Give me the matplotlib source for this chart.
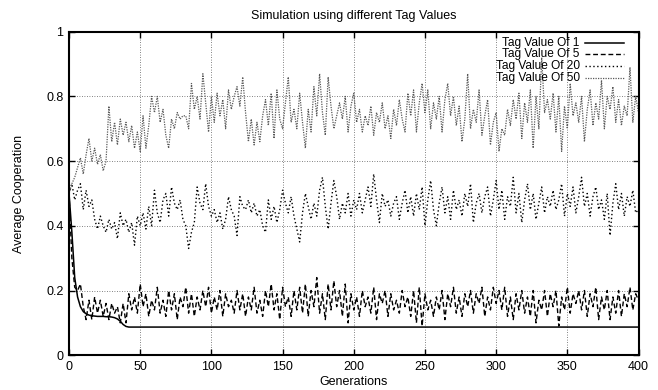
import numpy as np
import matplotlib
matplotlib.use('Agg')
import matplotlib.pyplot as plt
from matplotlib.lines import Line2D

# one sample every 2 generations, 0..400
generations = np.arange(0, 401, 2)

tag1 = [
    0.50, 0.38, 0.24, 0.18, 0.15, 0.135, 0.128, 0.124, 0.122, 0.121,
    0.120, 0.120, 0.120, 0.119, 0.119, 0.118, 0.116, 0.112, 0.105, 0.095,
    0.089, 0.087, 0.087, 0.087, 0.087, 0.087, 0.087, 0.087, 0.087, 0.087,
    0.087, 0.087, 0.087, 0.087, 0.087, 0.087, 0.087, 0.087, 0.087, 0.087,
    0.087, 0.087, 0.087, 0.087, 0.087, 0.087, 0.087, 0.087, 0.087, 0.087,
    0.087, 0.087, 0.087, 0.087, 0.087, 0.087, 0.087, 0.087, 0.087, 0.087,
    0.087, 0.087, 0.087, 0.087, 0.087, 0.087, 0.087, 0.087, 0.087, 0.087,
    0.087, 0.087, 0.087, 0.087, 0.087, 0.087, 0.087, 0.087, 0.087, 0.087,
    0.087, 0.087, 0.087, 0.087, 0.087, 0.087, 0.087, 0.087, 0.087, 0.087,
    0.087, 0.087, 0.087, 0.087, 0.087, 0.087, 0.087, 0.087, 0.087, 0.087,
    0.087, 0.087, 0.087, 0.087, 0.087, 0.087, 0.087, 0.087, 0.087, 0.087,
    0.087, 0.087, 0.087, 0.087, 0.087, 0.087, 0.087, 0.087, 0.087, 0.087,
    0.087, 0.087, 0.087, 0.087, 0.087, 0.087, 0.087, 0.087, 0.087, 0.087,
    0.087, 0.087, 0.087, 0.087, 0.087, 0.087, 0.087, 0.087, 0.087, 0.087,
    0.087, 0.087, 0.087, 0.087, 0.087, 0.087, 0.087, 0.087, 0.087, 0.087,
    0.087, 0.087, 0.087, 0.087, 0.087, 0.087, 0.087, 0.087, 0.087, 0.087,
    0.087, 0.087, 0.087, 0.087, 0.087, 0.087, 0.087, 0.087, 0.087, 0.087,
    0.087, 0.087, 0.087, 0.087, 0.087, 0.087, 0.087, 0.087, 0.087, 0.087,
    0.087, 0.087, 0.087, 0.087, 0.087, 0.087, 0.087, 0.087, 0.087, 0.087,
    0.087, 0.087, 0.087, 0.087, 0.087, 0.087, 0.087, 0.087, 0.087, 0.087,
    0.087,
]

tag5 = [
    0.50, 0.30, 0.21, 0.20, 0.22, 0.15, 0.11, 0.17, 0.11, 0.18,
    0.13, 0.17, 0.12, 0.16, 0.11, 0.16, 0.13, 0.15, 0.10, 0.16,
    0.10, 0.19, 0.14, 0.18, 0.13, 0.22, 0.15, 0.19, 0.12, 0.17,
    0.14, 0.21, 0.13, 0.17, 0.12, 0.20, 0.14, 0.19, 0.11, 0.18,
    0.15, 0.21, 0.13, 0.19, 0.12, 0.18, 0.14, 0.20, 0.15, 0.21,
    0.13, 0.18, 0.14, 0.20, 0.12, 0.19, 0.15, 0.17, 0.13, 0.20,
    0.14, 0.19, 0.12, 0.18, 0.14, 0.21, 0.13, 0.17, 0.12, 0.20,
    0.15, 0.22, 0.14, 0.19, 0.11, 0.21, 0.15, 0.18, 0.12, 0.20,
    0.14, 0.21, 0.13, 0.22, 0.12, 0.20, 0.15, 0.24, 0.13, 0.19,
    0.11, 0.22, 0.14, 0.23, 0.15, 0.20, 0.12, 0.22, 0.10, 0.19,
    0.14, 0.18, 0.12, 0.20, 0.15, 0.18, 0.13, 0.21, 0.11, 0.19,
    0.16, 0.20, 0.12, 0.19, 0.14, 0.17, 0.13, 0.20, 0.15, 0.18,
    0.12, 0.20, 0.10, 0.21, 0.09, 0.19, 0.14, 0.17, 0.12, 0.18,
    0.14, 0.20, 0.11, 0.19, 0.15, 0.21, 0.13, 0.18, 0.12, 0.19,
    0.15, 0.20, 0.13, 0.19, 0.16, 0.21, 0.12, 0.18, 0.14, 0.21,
    0.16, 0.20, 0.14, 0.21, 0.12, 0.18, 0.11, 0.19, 0.14, 0.20,
    0.13, 0.18, 0.12, 0.20, 0.10, 0.17, 0.14, 0.20, 0.12, 0.19,
    0.15, 0.20, 0.09, 0.18, 0.14, 0.21, 0.13, 0.19, 0.16, 0.20,
    0.14, 0.20, 0.12, 0.19, 0.15, 0.21, 0.11, 0.18, 0.14, 0.20,
    0.11, 0.18, 0.13, 0.20, 0.12, 0.19, 0.15, 0.21, 0.14, 0.19,
    0.17,
]

tag20 = [
    0.50, 0.53, 0.48, 0.51, 0.53, 0.45, 0.51, 0.46, 0.48, 0.42,
    0.39, 0.43, 0.40, 0.38, 0.42, 0.39, 0.41, 0.36, 0.44, 0.40,
    0.42, 0.38, 0.41, 0.34, 0.43, 0.40, 0.44, 0.39, 0.46, 0.40,
    0.51, 0.44, 0.41, 0.48, 0.50, 0.43, 0.52, 0.47, 0.45, 0.48,
    0.42, 0.40, 0.33, 0.38, 0.41, 0.52, 0.47, 0.45, 0.53, 0.46,
    0.43, 0.45, 0.41, 0.44, 0.39, 0.42, 0.49, 0.45, 0.43, 0.37,
    0.49, 0.46, 0.45, 0.48, 0.44, 0.47, 0.43, 0.45, 0.40, 0.38,
    0.48, 0.42, 0.46, 0.41, 0.45, 0.51, 0.47, 0.44, 0.49, 0.43,
    0.39, 0.35, 0.44, 0.50, 0.46, 0.42, 0.47, 0.43, 0.51, 0.55,
    0.46, 0.39, 0.47, 0.54, 0.49, 0.42, 0.47, 0.44, 0.50, 0.43,
    0.48, 0.45, 0.50, 0.44, 0.48, 0.52, 0.46, 0.56, 0.48, 0.41,
    0.50, 0.46, 0.48, 0.43, 0.47, 0.49, 0.42, 0.47, 0.51, 0.44,
    0.49, 0.43, 0.50, 0.45, 0.52, 0.40, 0.48, 0.54, 0.45, 0.40,
    0.47, 0.52, 0.44, 0.49, 0.42, 0.51, 0.45, 0.48, 0.43, 0.50,
    0.46, 0.53, 0.41, 0.47, 0.50, 0.44, 0.49, 0.52, 0.43, 0.48,
    0.54, 0.45, 0.51, 0.42, 0.49, 0.46, 0.55, 0.44, 0.50, 0.41,
    0.48, 0.53, 0.45, 0.50, 0.42, 0.47, 0.52, 0.44, 0.49, 0.46,
    0.51, 0.45, 0.48, 0.53, 0.43, 0.50, 0.46, 0.52, 0.44, 0.49,
    0.55, 0.46, 0.50, 0.43, 0.49, 0.52, 0.45, 0.48, 0.42, 0.50,
    0.37, 0.47, 0.53, 0.45, 0.50, 0.43, 0.49, 0.46, 0.51, 0.44,
    0.45,
]

tag50 = [
    0.50, 0.53, 0.55, 0.58, 0.61, 0.56, 0.62, 0.67, 0.60, 0.64,
    0.59, 0.62, 0.57, 0.60, 0.77, 0.66, 0.72, 0.65, 0.73, 0.68,
    0.72, 0.66, 0.71, 0.64, 0.69, 0.63, 0.74, 0.64, 0.71, 0.80,
    0.75, 0.80, 0.72, 0.76, 0.68, 0.64, 0.73, 0.70, 0.75, 0.73,
    0.74, 0.74, 0.70, 0.84, 0.76, 0.80, 0.73, 0.87, 0.78, 0.69,
    0.80, 0.72, 0.81, 0.74, 0.79, 0.70, 0.82, 0.76, 0.80, 0.83,
    0.77, 0.86, 0.75, 0.66, 0.73, 0.65, 0.72, 0.66, 0.74, 0.79,
    0.71, 0.81, 0.67, 0.82, 0.73, 0.70, 0.78, 0.86, 0.72, 0.76,
    0.70, 0.81, 0.72, 0.64, 0.76, 0.69, 0.83, 0.74, 0.87, 0.75,
    0.68, 0.86, 0.77, 0.70, 0.74, 0.78, 0.73, 0.80, 0.69, 0.77,
    0.81, 0.72, 0.76, 0.69, 0.74, 0.71, 0.77, 0.68, 0.75, 0.72,
    0.78, 0.70, 0.74, 0.67, 0.76, 0.71, 0.79, 0.73, 0.69, 0.81,
    0.74, 0.82, 0.69, 0.78, 0.84, 0.75, 0.82, 0.70, 0.78, 0.73,
    0.80, 0.69, 0.79, 0.84, 0.74, 0.80, 0.71, 0.77, 0.66, 0.73,
    0.87, 0.70, 0.76, 0.72, 0.82, 0.68, 0.74, 0.79, 0.65, 0.72,
    0.75, 0.63, 0.70, 0.68, 0.76, 0.71, 0.79, 0.73, 0.81, 0.67,
    0.78, 0.72, 0.82, 0.64, 0.80, 0.70, 0.92, 0.75, 0.79, 0.73,
    0.81, 0.69, 0.80, 0.63, 0.77, 0.70, 0.84, 0.74, 0.78, 0.72,
    0.80, 0.66, 0.76, 0.82, 0.71, 0.78, 0.73, 0.85, 0.70, 0.80,
    0.76, 0.83, 0.72, 0.79, 0.71, 0.77, 0.74, 0.89, 0.72, 0.80,
    0.75,
]

labels = ['Tag Value Of 1', 'Tag Value Of 5', 'Tag Value Of 20', 'Tag Value Of 50']
series = [tag1, tag5, tag20, tag50]
styles = [
    dict(color='black', lw=1.1, ls='-'),
    dict(color='black', lw=1.0, ls=(0, (3.5, 2))),
    dict(color='black', lw=1.0, ls=(0, (1, 1.8))),
    dict(color='0.35', lw=0.9, ls=(0, (1, 1))),
]

plt.rcParams['font.family'] = ['Liberation Sans', 'DejaVu Sans']

fig = plt.figure(figsize=(6.58, 3.90), dpi=100)
ax = fig.add_axes([0.1049, 0.0892, 0.8655, 0.8295])

for ys, st in zip(series, styles):
    ax.plot(generations, ys, **st)

ax.set_xlim(0, 400)
ax.set_ylim(0, 1)
ax.set_xticks([0, 50, 100, 150, 200, 250, 300, 350, 400])
ax.set_yticks([0, 0.2, 0.4, 0.6, 0.8, 1])
ax.set_yticklabels(['0', '0.2', '0.4', '0.6', '0.8', '1'])
ax.grid(True, color='0.35', lw=0.6, ls=(0, (1, 2)))
ax.tick_params(direction='in', top=True, right=True, length=4, width=1,
               labelsize=9, pad=4)
for sp in ax.spines.values():
    sp.set_linewidth(1.5)

ax.set_title('Simulation using different Tag Values', fontsize=9, pad=9)
ax.set_xlabel('Generations', fontsize=9, labelpad=2)
ax.set_ylabel('Average Cooperation', fontsize=9, labelpad=15)

# gnuplot-style key: right-justified text, line sample on the right
for i, (lab, st) in enumerate(zip(labels, styles)):
    yk = 0.966 - i * 0.036
    ax.text(0.897, yk, lab, transform=ax.transAxes, ha='right', va='center',
            fontsize=8.6)
    ax.add_line(Line2D([0.906, 0.974], [yk, yk], transform=ax.transAxes, **st))

fig.savefig('out.png', dpi=100)
